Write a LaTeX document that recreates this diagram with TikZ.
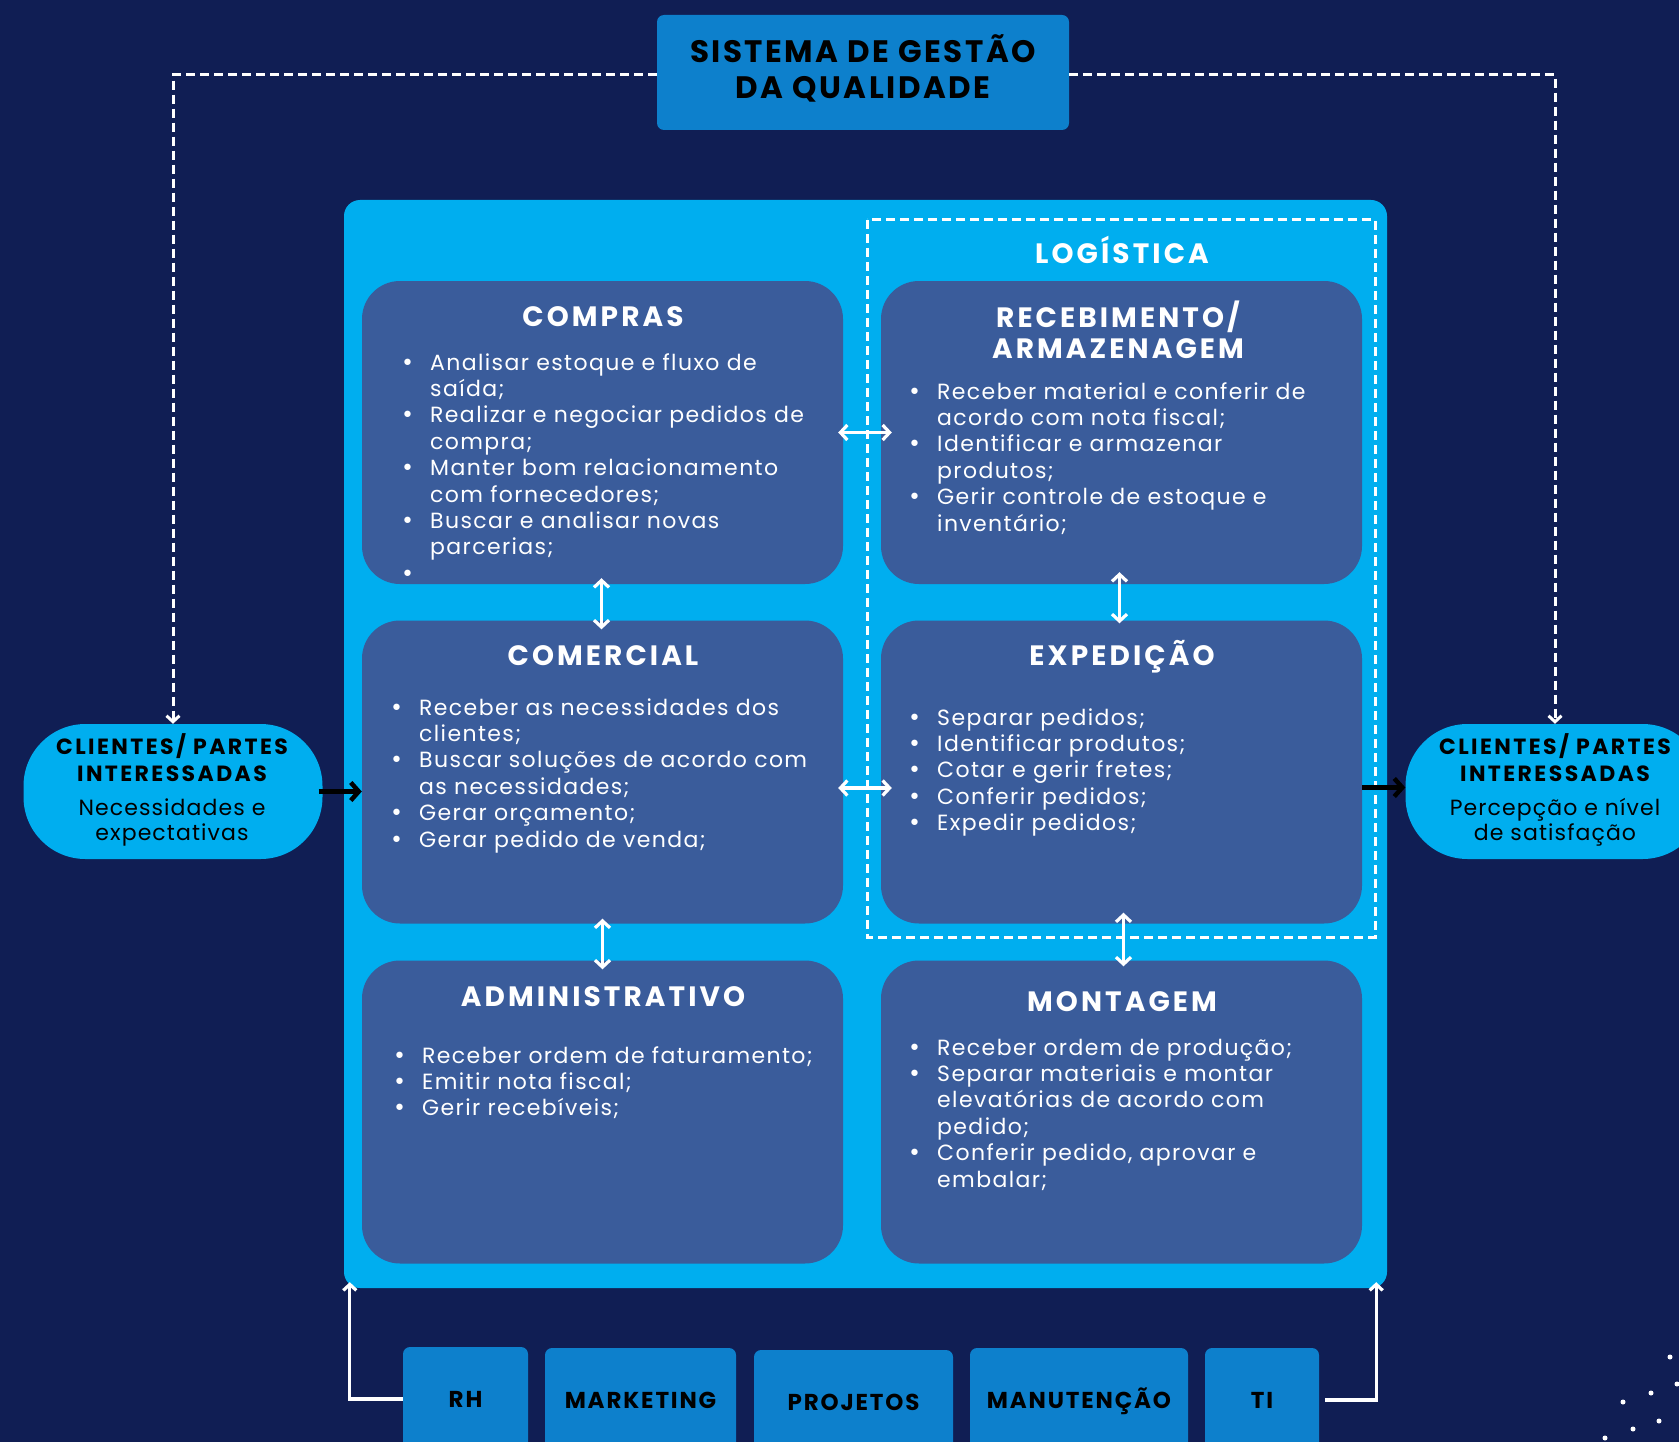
\documentclass[tikz,border=0pt]{standalone}
\usepackage{fontspec}
\setmainfont{Poppins}
\newfontfamily\dejavu{DejaVu Sans}
\usetikzlibrary{arrows.meta}
\definecolor{bg}{HTML}{101E54}
\definecolor{cyanbox}{HTML}{00AEEF}
\definecolor{innerbox}{HTML}{3A5C9B}
\definecolor{darkbox}{HTML}{0D80CC}
\newcommand{\bl}{\makebox[23pt][l]{\hspace*{-6pt}\dejavu •}}
\newcommand{\ind}{\hspace*{23pt}}
\begin{document}
\begin{tikzpicture}[x=1pt,y=-1pt,
  inner/.style={fill=innerbox,rounded corners=38pt,minimum width=481pt,minimum height=303pt,inner sep=0pt},
  ttl/.style={text=white,font=\fontsize{28}{31}\selectfont\bfseries\addfontfeature{LetterSpace=11},align=center,anchor=base,inner sep=0pt},
  lst/.style={text=white,font=\fontsize{22}{26.4}\selectfont\addfontfeature{LetterSpace=6.3},align=left,anchor=base west,inner sep=0pt},
  client/.style={fill=cyanbox,rounded corners=62pt,minimum width=299pt,minimum height=135pt,inner sep=0pt},
  clb/.style={text=black,font=\fontsize{22}{27}\selectfont\bfseries\addfontfeature{LetterSpace=11},align=center,anchor=base,inner sep=0pt},
  clr/.style={text=black,font=\fontsize{22}{25}\selectfont\addfontfeature{LetterSpace=5},align=center,anchor=base,inner sep=0pt},
  dept/.style={fill=darkbox,rounded corners=7pt,minimum height=104pt,inner sep=0pt,text=black,text height=16pt,text depth=0pt,font=\fontsize{23}{26}\selectfont\bfseries\addfontfeature{LetterSpace=8}},
  warrow/.style={draw=white,line width=3.2pt,{Straight Barb[length=7pt,width=15pt]}-{Straight Barb[length=7pt,width=15pt]}},
  barrow/.style={draw=black,line width=4.5pt,-{Straight Barb[length=8pt,width=18pt]}},
  wline/.style={draw=white,line width=3.2pt,-{Straight Barb[length=6pt,width=13pt]}},
  dline/.style={draw=white,line width=3pt,dash pattern=on 9pt off 5pt,-{Straight Barb[length=6pt,width=13pt]}}
]
\useasboundingbox (0,0) rectangle (1679,1442);
\fill[bg] (0,0) rectangle (1679,1442);

% main box
\node[fill=cyanbox,rounded corners=16pt,minimum width=1043pt,minimum height=1088pt,inner sep=0pt] (main) at (865.5,744) {};

% title
\node[fill=darkbox,rounded corners=7pt,minimum width=412pt,minimum height=115pt,inner sep=0pt] (sgq) at (863,72.5) {};
\node[text=black,font=\fontsize{31}{36}\selectfont\bfseries\addfontfeature{LetterSpace=8},align=center,anchor=base,inner sep=0pt] (sgqt) at (863,99) {SISTEMA DE GESTÃO\\DA QUALIDADE};

% logistica dashed box
\draw[white,line width=3pt,dash pattern=on 9pt off 5pt] (867,220) rectangle (1375,937);
\node[ttl] (logt) at (1122,263) {LOGÍSTICA};

% inner boxes
\node[inner] (c1) at (602.5,432.5) {};
\node[inner] (c2) at (602.5,772) {};
\node[inner] (c3) at (602.5,1112) {};
\node[inner] (r1) at (1121.5,432.5) {};
\node[inner] (r2) at (1121.5,772) {};
\node[inner] (r3) at (1121.5,1112) {};

\node[ttl] (c1t) at (603,326) {COMPRAS};
\node[lst] (c1l) at (407,581.2) {\bl Analisar estoque e fluxo de\\\ind saída;\\\bl Realizar e negociar pedidos de\\\ind compra;\\\bl Manter bom relacionamento\\\ind com fornecedores;\\\bl Buscar e analisar novas\\\ind parcerias;\\\bl};

\node[ttl] (r1t) at (1118,358) {RECEBIMENTO/\\ARMAZENAGEM};
\node[lst] (r1l) at (914,531) {\bl Receber material e conferir de\\\ind acordo com nota fiscal;\\\bl Identificar e armazenar\\\ind produtos;\\\bl Gerir controle de estoque e\\\ind inventário;};

\node[ttl] (c2t) at (603,665) {COMERCIAL};
\node[lst] (c2l) at (396,847) {\bl Receber as necessidades dos\\\ind clientes;\\\bl Buscar soluções de acordo com\\\ind as necessidades;\\\bl Gerar orçamento;\\\bl Gerar pedido de venda;};

\node[ttl] (r2t) at (1122,665) {EXPEDIÇÃO};
\node[lst] (r2l) at (914,830.6) {\bl Separar pedidos;\\\bl Identificar produtos;\\\bl Cotar e gerir fretes;\\\bl Conferir pedidos;\\\bl Expedir pedidos;};

\node[ttl] (c3t) at (603,1006) {ADMINISTRATIVO};
\node[lst] (c3l) at (399,1115.8) {\bl Receber ordem de faturamento;\\\bl Emitir nota fiscal;\\\bl Gerir recebíveis;};

\node[ttl] (r3t) at (1122,1011) {MONTAGEM};
\node[lst] (r3l) at (914,1187) {\bl Receber ordem de produção;\\\bl Separar materiais e montar\\\ind elevatórias de acordo com\\\ind pedido;\\\bl Conferir pedido, aprovar e\\\ind embalar;};

% clients
\node[client] (cl) at (173,791.5) {};
\node[clb] (clt) at (172,781) {CLIENTES/ PARTES\\INTERESSADAS};
\node[clr] (cls) at (172,840) {Necessidades e\\expectativas};

\node[client] (cr) at (1555,791.5) {};
\node[clb] (crt) at (1555,781) {CLIENTES/ PARTES\\INTERESSADAS};
\node[clr] (crs) at (1555,840) {Percepção e nível\\de satisfação};

% departments
\node[dept,minimum width=125pt] (rh) at (465.5,1399) {RH};
\node[dept,minimum width=191pt] (mk) at (640.5,1400) {MARKETING};
\node[dept,minimum width=199pt] (pj) at (853.5,1402) {PROJETOS};
\node[dept,minimum width=218pt] (mn) at (1079,1400) {MANUTENÇÃO};
\node[dept,minimum width=114pt] (ti) at (1262,1400) {TI};

% dashed connectors from SGQ
\draw[dline] ([yshift=-2pt]sgq.west) -| (cl.north);
\draw[dline] ([yshift=-2pt]sgq.east) -| (cr.north);

% white double arrows
\draw[warrow] ([xshift=-5pt]c1.east) -- ([xshift=11pt]r1.west);
\draw[warrow] ([xshift=-5pt,yshift=-16pt]c2.east) -- ([xshift=11pt,yshift=-16pt]r2.west);
\draw[warrow] ([xshift=-1pt,yshift=6pt]c1.south) -- ([xshift=-1pt,yshift=-9pt]c2.north);
\draw[warrow] ([xshift=-2pt,yshift=12pt]r1.south) -- ([xshift=-2pt,yshift=-3pt]r2.north);
\draw[warrow] ([yshift=5pt]c2.south) -- ([yshift=-9pt]c3.north);
\draw[warrow] ([xshift=2pt,yshift=11pt]r2.south) -- ([xshift=2pt,yshift=-6pt]r3.north);

% black arrows
\draw[barrow] ([xshift=-4pt]cl.east) -- (cl.east -| c2.west);
\draw[barrow] ([yshift=4pt]cr.west -| r2.east) -- ([yshift=4pt]cr.west);

% bottom connectors
\draw[wline] (rh.west) -| ([xshift=6pt,yshift=6pt]main.south west);
\draw[wline] ([xshift=6pt]ti.east) -| ([xshift=-11pt,yshift=6pt]main.south east);

% specks
\foreach \p in {(1670,1357),(1677,1384),(1651,1393),(1623,1402),(1659,1421),(1633,1429),(1605,1438)}
  \fill[white] \p circle (2.5pt);
\end{tikzpicture}
\end{document}
